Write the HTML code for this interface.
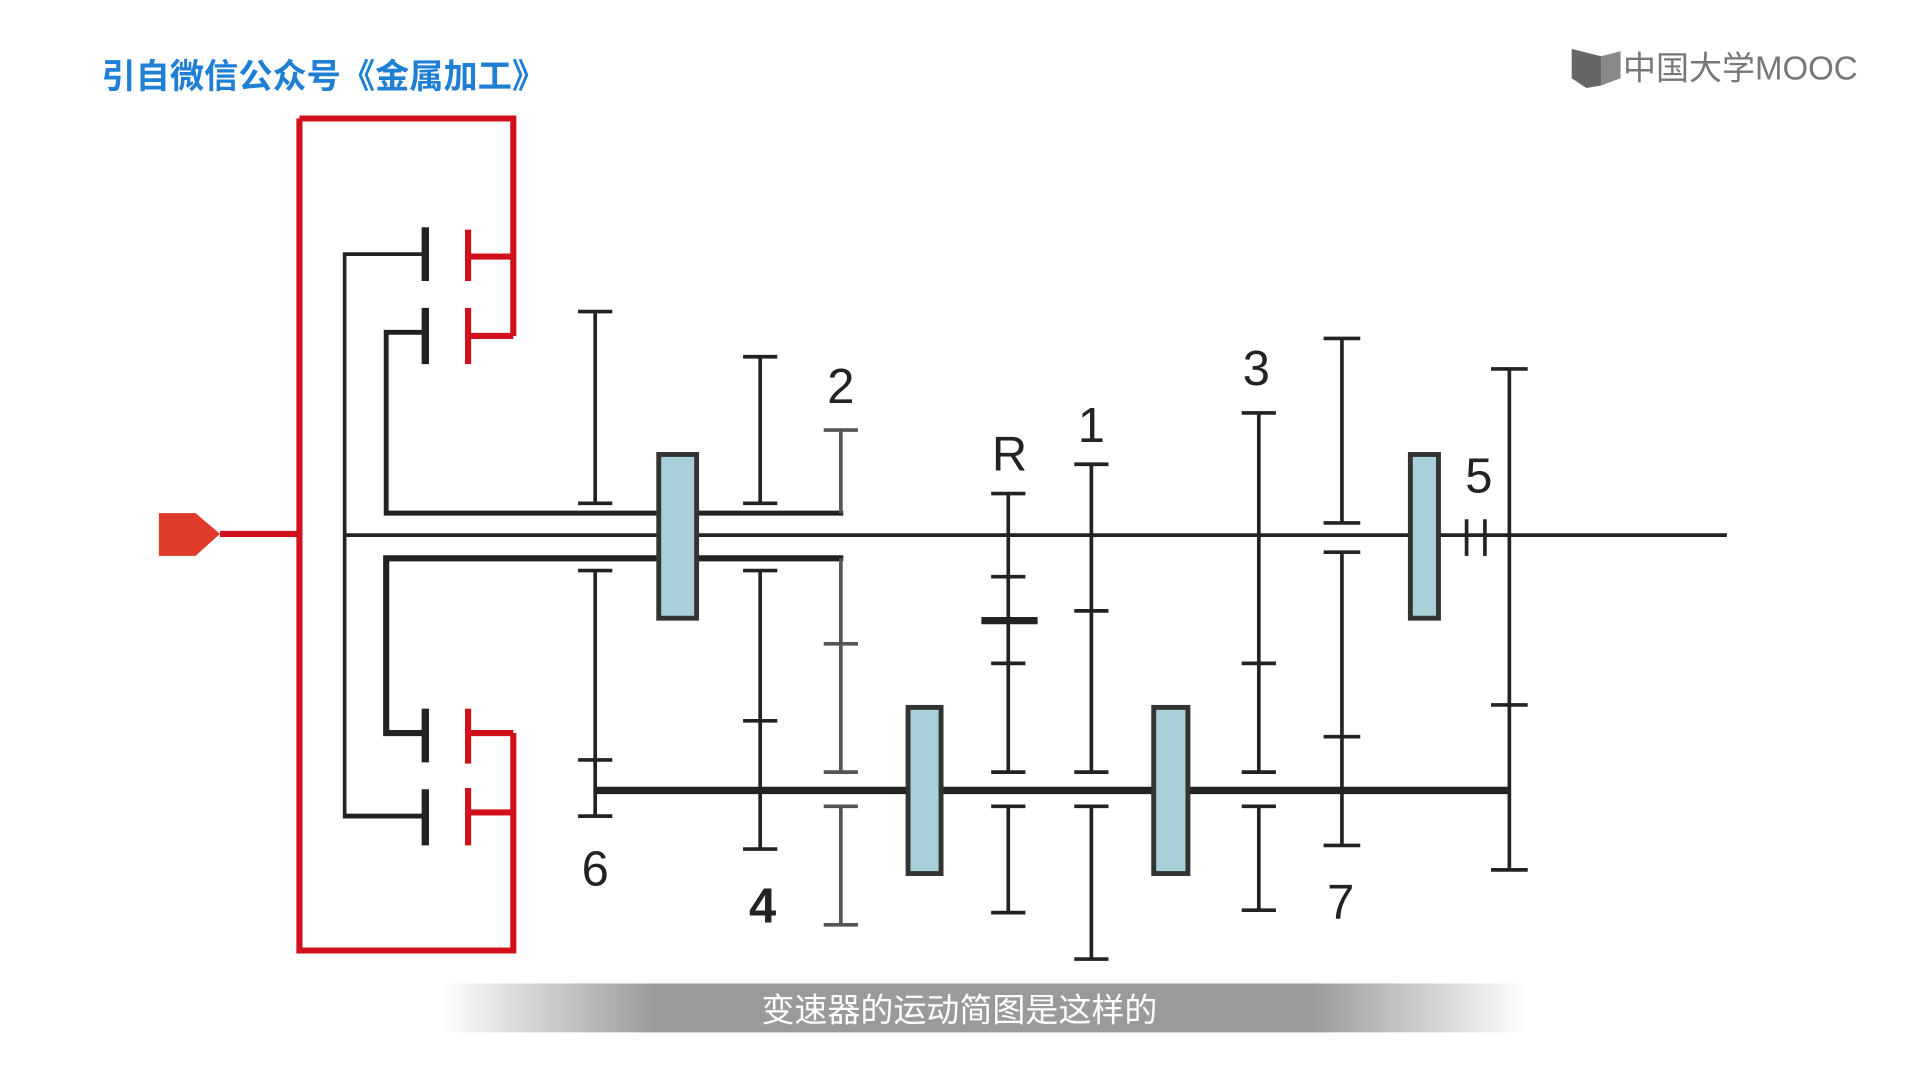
<!DOCTYPE html>
<html><head><meta charset="utf-8"><style>
html,body{margin:0;padding:0;background:#fff;width:1920px;height:1080px;overflow:hidden}
svg{display:block}
</style></head><body>
<svg width="1920" height="1080" viewBox="0 0 1571 884" preserveAspectRatio="none" xmlns="http://www.w3.org/2000/svg">
<defs>
<linearGradient id="sub" x1="0" x2="1" y1="0" y2="0">
<stop offset="0" stop-color="#888" stop-opacity="0"/>
<stop offset="0.2" stop-color="#888" stop-opacity="0.85"/>
<stop offset="0.8" stop-color="#888" stop-opacity="0.85"/>
<stop offset="1" stop-color="#888" stop-opacity="0"/>
</linearGradient>
</defs>
<rect width="1571" height="884" fill="#fff"/>
<text x="83" y="72" font-family="Liberation Sans, Noto Sans CJK SC, sans-serif" font-size="28" font-weight="bold" fill="#1f7fd4">引自微信公众号《金属加工》</text>
<g fill="#666"><path d="M1286 40 L1310 46 L1310 70 L1298 72 L1286 64 Z"/><path d="M1310 46 L1326 42 L1326 64 L1310 70Z" fill="#888"/></g>
<text x="1328" y="65" font-family="Liberation Sans, Noto Sans CJK SC, sans-serif" font-size="27" fill="#777">中国大学MOOC</text>

<path d="M130 420 L160 420 L180 437 L160 455 L130 455Z" fill="#e03a2a"/>
<g stroke="#d0101a" stroke-width="5" fill="none">
<line x1="180" y1="437" x2="245" y2="437"/>
<path d="M245 97 L420 97 L420 275 M245 97 L245 778 L420 778 L420 600"/>
<line x1="383" y1="188" x2="383" y2="230"/><line x1="383" y1="252" x2="383" y2="298"/>
<line x1="383" y1="210" x2="420" y2="210"/><line x1="383" y1="275" x2="420" y2="275"/>
<line x1="383" y1="580" x2="383" y2="625"/><line x1="383" y1="645" x2="383" y2="692"/>
<line x1="383" y1="600" x2="420" y2="600"/><line x1="383" y1="665" x2="420" y2="665"/>
</g>
<g stroke="#222" fill="none">
<g stroke-width="6"><line x1="348" y1="186" x2="348" y2="230"/><line x1="348" y1="252" x2="348" y2="298"/><line x1="348" y1="580" x2="348" y2="624"/><line x1="348" y1="646" x2="348" y2="692"/></g>
<path d="M282 670 L282 208 L348 208" stroke-width="3"/>
<path d="M282 668 L348 668" stroke-width="4"/>
<path d="M348 272 L316 272 L316 420 L690 420" stroke-width="4"/>
<path d="M348 600 L316 600 L316 457 L690 457" stroke-width="5"/>
<line x1="282" y1="438" x2="1413" y2="438" stroke-width="3"/>
<line x1="487" y1="647" x2="1235" y2="647" stroke-width="6"/>
<g stroke-width="3">
<path d="M487 255V412 M473 255H501 M473 412H501 M487 467V668 M473 467H501 M473 622H501 M473 668H501"/>
<path d="M622 292V412 M608 292H636 M608 412H636 M622 467V695 M608 467H636 M608 590H636 M608 695H636"/>
<path d="M825 404V632 M811 404H839 M811 472H839 M811 543H839 M811 632H839 M825 660V747 M811 660H839 M811 747H839"/>
<path d="M803 508H849" stroke-width="6"/>
<path d="M893 380V632 M879 380H907 M879 500H907 M879 632H907 M893 660V785 M879 660H907 M879 785H907"/>
<path d="M1030 338V632 M1016 338H1044 M1016 543H1044 M1016 632H1044 M1030 660V745 M1016 660H1044 M1016 745H1044"/>
<path d="M1098 277V428 M1083 277H1113 M1083 428H1113 M1098 452V692 M1083 452H1113 M1083 603H1113 M1083 692H1113"/>
<path d="M1235 302V712 M1220 302H1250 M1220 577H1250 M1220 712H1250 M1200 425V455 M1215 425V455"/>
</g>
<path stroke="#555" stroke-width="3" d="M688 352V420 M674 352H702 M688 457V632 M674 527H702 M674 632H702 M688 660V757 M674 660H702 M674 757H702"/>
</g>
<g fill="#a9cfd8" stroke="#333" stroke-width="4">
<rect x="539" y="372" width="31" height="134"/>
<rect x="1154" y="372" width="23" height="134"/>
<rect x="743" y="579" width="27" height="136"/>
<rect x="944" y="579" width="28" height="136"/>
</g>
<g font-family="Liberation Sans, sans-serif" font-size="40" fill="#222" text-anchor="middle">
<text x="688" y="330">2</text><text x="826" y="385">R</text><text x="893" y="362">1</text>
<text x="1028" y="315">3</text><text x="1210" y="403">5</text><text x="487" y="725">6</text>
<text x="624" y="755" font-weight="bold">4</text><text x="1097" y="752">7</text>
</g>
<rect x="360" y="805" width="890" height="40" fill="url(#sub)"/>
<text x="785" y="836" text-anchor="middle" font-family="Liberation Sans, Noto Sans CJK SC, sans-serif" font-size="27" fill="#fff">变速器的运动简图是这样的</text>
</svg>
</body></html>
